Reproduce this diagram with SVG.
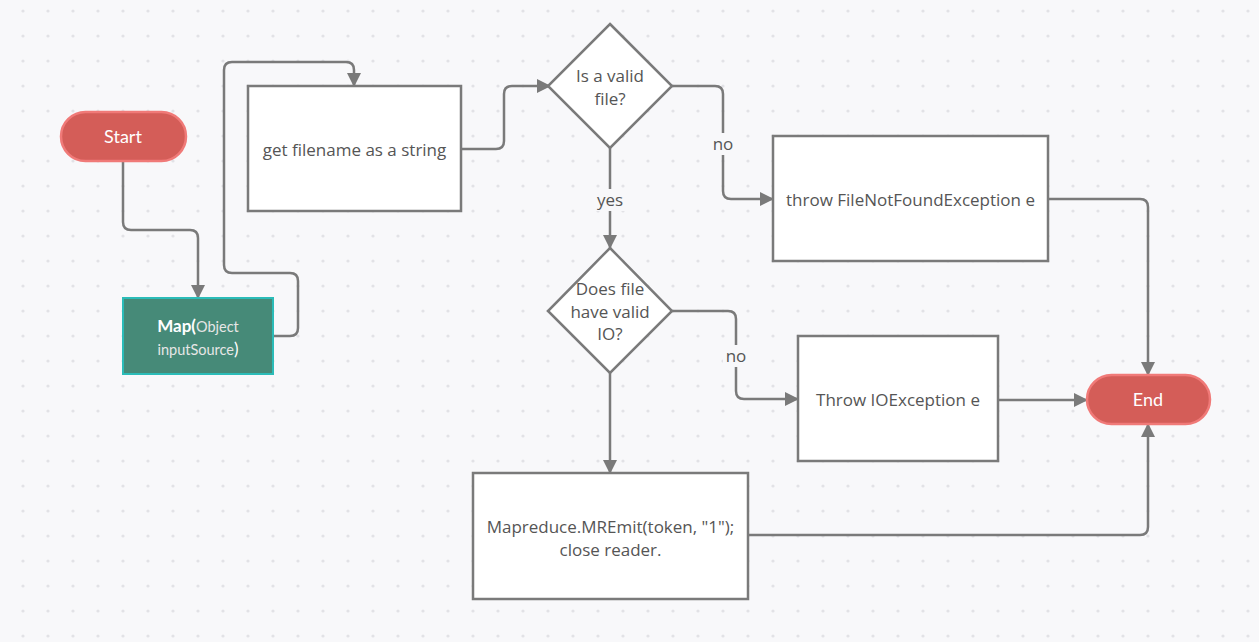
<svg xmlns="http://www.w3.org/2000/svg" width="1259" height="642" viewBox="0 0 1259 642">
<defs>
<pattern id="dots" x="0" y="0" width="25" height="25" patternUnits="userSpaceOnUse">
<circle cx="23" cy="11" r="1.6" fill="#e2e2e6"/>
</pattern>
<marker id="arrL" viewBox="0 0 14 14" refX="13" refY="7" markerWidth="14" markerHeight="14" markerUnits="userSpaceOnUse" orient="auto">
<path d="M0,0 L14,7 L0,14 Z" fill="#7a7a7a"/>
</marker>
</defs>
<style>
.bg{fill:#f8f8fa}
.box{fill:#ffffff;stroke:#7a7a7a;stroke-width:2.5}
.term{fill:#d45d58;stroke:#f07a78;stroke-width:2.5}
.map{fill:#468a78;stroke:#2bbcb8;stroke-width:2}
.con{fill:none;stroke:#7a7a7a;stroke-width:2.5;marker-end:url(#arrL)}
.t{font-family:"Open Sans","Liberation Sans",sans-serif;font-size:17px;fill:#555555;text-anchor:middle}
.tw{font-family:"Lato","Open Sans",sans-serif;font-size:18px;fill:#ffffff;text-anchor:middle}
.lbl{font-family:"Open Sans","Liberation Sans",sans-serif;font-size:17px;fill:#555555;text-anchor:middle}
</style>
<rect class="bg" x="0" y="0" width="1259" height="642"/>
<rect x="0" y="0" width="1259" height="642" fill="url(#dots)"/>

<g id="connectors">
<path class="con" d="M123,161 V222 Q123,230 131,230 H190 Q198,230 198,238 V298"/>
<path class="con" d="M273,336 H290 Q298,336 298,328 V281 Q298,273 290,273 H232 Q224,273 224,265 V70 Q224,62 232,62 H346 Q354,62 354,70 V86"/>
<path class="con" d="M461,149 H496 Q504,149 504,141 V94 Q504,86 512,86 H550"/>
<path class="con" d="M672,86 H715 Q723,86 723,94 V191 Q723,199 731,199 H773"/>
<path class="con" d="M610,148 V248"/>
<path class="con" d="M672,311 H728 Q736,311 736,319 V391 Q736,399 744,399 H798"/>
<path class="con" d="M610,373 V473"/>
<path class="con" d="M1048,199 H1140 Q1148,199 1148,207 V375"/>
<path class="con" d="M998,400 H1087"/>
<path class="con" d="M748,535 H1140 Q1148,535 1148,527 V424"/>
<rect x="710" y="133" width="27" height="22" class="bg"/>
<text class="lbl" x="723" y="150">no</text>
<rect x="593" y="189" width="34" height="22" class="bg"/>
<text class="lbl" x="610" y="206">yes</text>
<rect x="723" y="345" width="27" height="22" class="bg"/>
<text class="lbl" x="736" y="362">no</text>
</g>

<g id="start">
<rect class="term" x="61" y="112" width="125" height="49" rx="24.5"/>
<text class="tw" x="123" y="143">Start</text>
</g>

<g id="map">
<rect class="map" x="123" y="298" width="150" height="76"/>
<text x="198" y="332" text-anchor="middle" font-family="Lato, 'Open Sans', sans-serif"><tspan font-size="17" font-weight="bold" fill="#ffffff">Map(</tspan><tspan font-size="14.5" fill="#e6e6e6">Object</tspan></text>
<text x="198" y="355" text-anchor="middle" font-family="Lato, 'Open Sans', sans-serif"><tspan font-size="14.5" fill="#e6e6e6">inputSource</tspan><tspan font-size="17" fill="#ffffff">)</tspan></text>
</g>

<g id="getfilename">
<rect class="box" x="248" y="86" width="213" height="125"/>
<text class="t" x="354.5" y="156">get filename as a string</text>
</g>

<g id="validfile">
<polygon class="box" points="610,24 672,86 610,148 548,86"/>
<text class="t" x="610" y="82">Is a valid</text>
<text class="t" x="610" y="105">file?</text>
</g>

<g id="filenotfound">
<rect class="box" x="773" y="136" width="275" height="125"/>
<text class="t" x="910.5" y="206">throw FileNotFoundException e</text>
</g>

<g id="validio">
<polygon class="box" points="610,248 672,311 610,373 548,311"/>
<text class="t" x="610" y="295">Does file</text>
<text class="t" x="610" y="318">have valid</text>
<text class="t" x="610" y="340">IO?</text>
</g>

<g id="ioexception">
<rect class="box" x="798" y="336" width="200" height="125"/>
<text class="t" x="898" y="406">Throw IOException e</text>
</g>

<g id="emit">
<rect class="box" x="473" y="473" width="275" height="126"/>
<text class="t" x="610.5" y="533">Mapreduce.MREmit(token, "1");</text>
<text class="t" x="610.5" y="556">close reader.</text>
</g>

<g id="end">
<rect class="term" x="1087" y="375" width="123" height="49" rx="24.5"/>
<text class="tw" x="1148" y="406">End</text>
</g>
</svg>
